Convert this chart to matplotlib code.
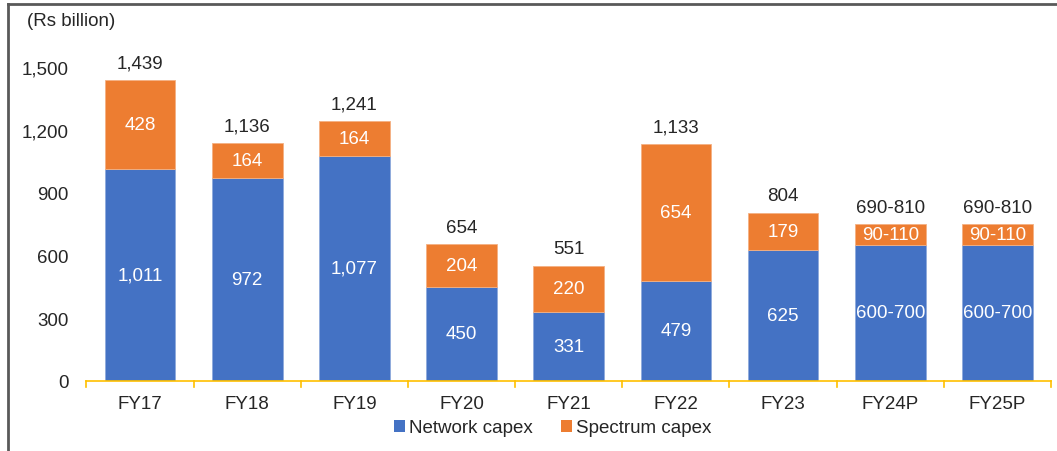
import matplotlib
matplotlib.use("Agg")
import matplotlib.pyplot as plt
from matplotlib.patches import Patch
from matplotlib.lines import Line2D

categories = ["FY17", "FY18", "FY19", "FY20", "FY21", "FY22", "FY23", "FY24P", "FY25P"]
network = [1011, 972, 1077, 450, 331, 479, 625, 650, 650]
spectrum = [428, 164, 164, 204, 220, 654, 179, 100, 100]
network_labels = ["1,011", "972", "1,077", "450", "331", "479", "625", "600-700", "600-700"]
spectrum_labels = ["428", "164", "164", "204", "220", "654", "179", "90-110", "90-110"]
total_labels = ["1,439", "1,136", "1,241", "654", "551", "1,133", "804", "690-810", "690-810"]
yticks = [0, 300, 600, 900, 1200, 1500]

plt.rcParams['font.family'] = ['Liberation Sans', 'DejaVu Sans']
BLUE = "#4472C4"
ORANGE = "#ED7D31"
TXT = "#262626"
FS = 13.5

W, H = 1057, 452
fig = plt.figure(figsize=(W / 100, H / 100), dpi=100)
ax = fig.add_axes([86.4 / W, 1 - 382 / H, (1051 - 86.4) / W, (382 - 68) / H])

x = list(range(len(categories)))
bw = 0.66
ax.bar(x, network, width=bw, color=BLUE, edgecolor="#8FAADC", linewidth=0.6, zorder=2)
ax.bar(x, spectrum, width=bw, bottom=network, color=ORANGE, edgecolor="#F4B183", linewidth=0.6, zorder=2)

for i in x:
    ax.text(i, network[i] / 2, network_labels[i], ha="center", va="center",
            color="white", fontsize=FS, zorder=3)
    ax.text(i, network[i] + spectrum[i] / 2, spectrum_labels[i], ha="center", va="center",
            color="white", fontsize=FS, zorder=3)
    ax.annotate(total_labels[i], (i, network[i] + spectrum[i]), xytext=(0, 6),
                textcoords="offset points", ha="center", va="bottom",
                color=TXT, fontsize=FS, annotation_clip=False)

ax.set_xlim(-0.5, len(categories) - 0.5)
ax.set_ylim(0, 1500)
ax.set_yticks(yticks)
ax.set_yticklabels([f"{v:,}" for v in yticks], fontsize=FS, color=TXT)
ax.set_xticks(x)
ax.set_xticklabels(categories, fontsize=FS, color=TXT)
ax.tick_params(axis="y", length=0, pad=13)
ax.tick_params(axis="x", length=0, pad=10)
for s in ["top", "right", "left"]:
    ax.spines[s].set_visible(False)
ax.spines["bottom"].set_color("#FFC000")
ax.spines["bottom"].set_linewidth(1.2)
ax.spines["bottom"].set_zorder(4)
# category separator ticks
for b in [k - 0.5 for k in range(len(categories) + 1)]:
    ax.plot([b, b], [0, -1500 * 6 / 314], color="#FFC000", lw=1.2, clip_on=False, zorder=4)

fig.text(27 / W, 1 - 21 / H, "(Rs billion)", fontsize=FS, color=TXT, va="center", ha="left")

handles = [Patch(facecolor=BLUE, edgecolor="none"), Patch(facecolor=ORANGE, edgecolor="none")]
fig.legend(handles, ["Network capex", "Spectrum capex"], loc="center",
           bbox_to_anchor=(553 / W, 1 - 429 / H), ncol=2, frameon=False, fontsize=FS,
           handlelength=0.55, handleheight=0.55, handletextpad=0.25, columnspacing=1.5,
           labelcolor=TXT)

# outer border (left and top)
fig.add_artist(Line2D([7.5 / W, 7.5 / W], [0, 1 - 5 / H], color="#595959", lw=2, transform=fig.transFigure))
fig.add_artist(Line2D([7.5 / W, 1], [1 - 5 / H, 1 - 5 / H], color="#595959", lw=2, transform=fig.transFigure))

fig.savefig("out.png", dpi=100)
